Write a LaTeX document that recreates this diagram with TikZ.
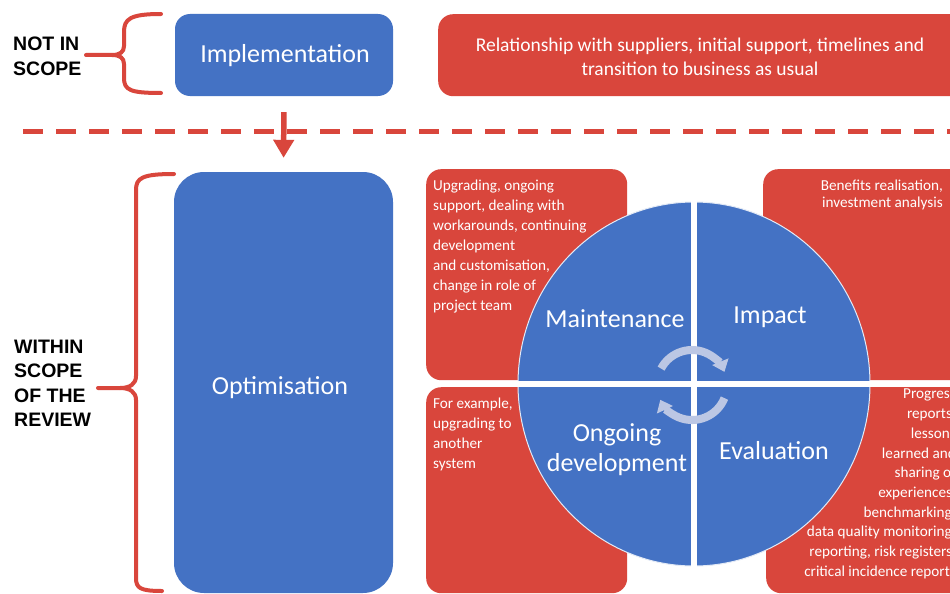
\documentclass[tikz,border=0pt]{standalone}
\usepackage{fontspec}
\setmainfont{Carlito}
\newfontfamily\labelfont{Liberation Sans}
\usetikzlibrary{arrows.meta}
\definecolor{pblue}{RGB}{68,114,196}
\definecolor{pred}{RGB}{217,70,60}
\definecolor{parrow}{RGB}{188,199,228}
\begin{document}
\begin{tikzpicture}[x=1pt,y=-1pt,
  bluebox/.style={fill=pblue, draw=none, rounded corners=15pt, inner sep=0pt},
  redbox/.style={fill=pred, draw=none, rounded corners=15pt, inner sep=0pt},
  bigtxt/.style={text=white, font=\fontsize{26}{30}\selectfont, inner sep=0pt, align=center},
  midtxt/.style={text=white, font=\fontsize{19.5}{24}\selectfont, inner sep=0pt, align=center},
  smalltxt/.style={text=white, font=\fontsize{15.2}{20}\selectfont, inner sep=0pt},
  scopelabel/.style={text=black, font=\labelfont\bfseries\fontsize{19.5}{24.2}\selectfont, inner sep=0pt, align=left, anchor=north west},
  bracestyle/.style={draw=pred, line width=4pt, line cap=round, line join=round},
  redarrow/.style={draw=pred, line width=5.5pt, -{Triangle[length=18pt,width=20pt]}},
  cyc/.style={draw=parrow, line width=8pt, -{Triangle[length=11pt,width=17pt]}},
  sep/.style={draw=white, line width=6pt}
]
\useasboundingbox (0,0) rectangle (950,594);
\clip (0,0) rectangle (950,594);
\fill[white] (0,0) rectangle (950,594);

% top row
\node[bluebox, minimum width=218pt, minimum height=82pt] (impl) at (284,55) {};
\node[bigtxt] (impltxt) at (285,56) {Implementation};
\node[redbox, minimum width=560pt, minimum height=82pt, anchor=north west] (toprel) at (438,14) {};
\node[midtxt] (topreltxt) at (700,57) {Relationship with suppliers, initial support, timelines and\\transition to business as usual};

% dashed separator
\coordinate (dashL) at (23,131);
\coordinate (dashR) at (960,131);
\draw[pred, line width=5pt, dash pattern=on 20pt off 13pt] (dashL) -- (dashR);

% optimisation
\node[bluebox, rounded corners=30pt, minimum width=219pt, minimum height=421pt] (opt) at (283.5,382.5) {};
\node[bigtxt] (opttxt) at (280,388) {Optimisation};
\draw[redarrow, shorten <=16pt, shorten >=14pt] (impl.south) -- (opt.north);

% scope labels and braces
\node[scopelabel] (notin) at (13,37) {NOT IN\\SCOPE};
\node[scopelabel] (within) at (14,340) {WITHIN\\SCOPE\\OF THE\\REVIEW};
\draw[bracestyle] (161,14) .. controls (130,14) and (124,19) .. (124,32) -- (124,46)
  .. controls (124,52) and (120,55) .. (112,55) -- (86,55);
\draw[bracestyle] (112,55) .. controls (120,55) and (124,58) .. (124,64) -- (124,78)
  .. controls (124,90) and (130,93) .. (161,93);
\draw[bracestyle] (174,174) .. controls (142,174) and (136,178) .. (136,190) -- (136,376)
  .. controls (136,384) and (130,388) .. (120,388) -- (98,388);
\draw[bracestyle] (120,388) .. controls (130,388) and (136,392) .. (136,400) -- (136,578)
  .. controls (136,588) and (140,591) .. (162,591);

% red boxes around the circle
\node[redbox, minimum width=201pt, minimum height=211pt, anchor=north west] (tl) at (426,169) {};
\node[redbox, minimum width=260pt, minimum height=211pt, anchor=north west] (tr) at (763,169) {};
\node[redbox, minimum width=201pt, minimum height=206pt, anchor=north west] (bl) at (426,387) {};
\node[redbox, minimum width=260pt, minimum height=206pt, anchor=north west] (br) at (766,387) {};

\node[smalltxt, anchor=north west, align=left] (tltxt) at (433,180)
  {Upgrading, ongoing\\support, dealing with\\workarounds, continuing\\development\\and customisation,\\change in role of\\project team};
\node[smalltxt, font=\fontsize{15.2}{17}\selectfont, anchor=north east, align=right] (trtxt) at (943,180)
  {Benefits realisation,\\investment analysis};
\node[smalltxt, anchor=north west, align=left] (bltxt) at (433,398)
  {For example,\\upgrading to\\another\\system};
\node[smalltxt, font=\fontsize{15.2}{19.7}\selectfont, anchor=north east, align=right] (brtxt) at (956,389)
  {Progress\\reports,\\lessons\\learned and\\sharing of\\experiences,\\benchmarking,\\data quality monitoring,\\reporting, risk registers,\\critical incidence reports};

% circle
\coordinate (cc) at (694,384);
\fill[pblue] (cc) ellipse [x radius=176, y radius=182];
\draw[white!85!pblue, line width=1pt] (cc) ellipse [x radius=176, y radius=182];
\coordinate (vT) at (694,196);
\coordinate (vB) at (694,572);
\coordinate (hL) at (512,384);
\coordinate (hR) at (876,384);
\draw[sep] (vT) -- (vB);
\draw[sep] (hL) -- (hR);

\node[bigtxt] (maint) at (615,319) {Maintenance};
\node[bigtxt] (impact) at (770,317) {Impact};
\node[bigtxt] (ongo) at (617,450) {Ongoing\\development};
\node[bigtxt] (evalq) at (774,451) {Evaluation};

% cycle arrows
\coordinate (ac) at (692,385);
\draw[cyc] (ac) ++(208:35) arc[start angle=208, end angle=338, radius=35];
\draw[cyc] (ac) ++(22:35) arc[start angle=22, end angle=155, radius=35];
\end{tikzpicture}
\end{document}
